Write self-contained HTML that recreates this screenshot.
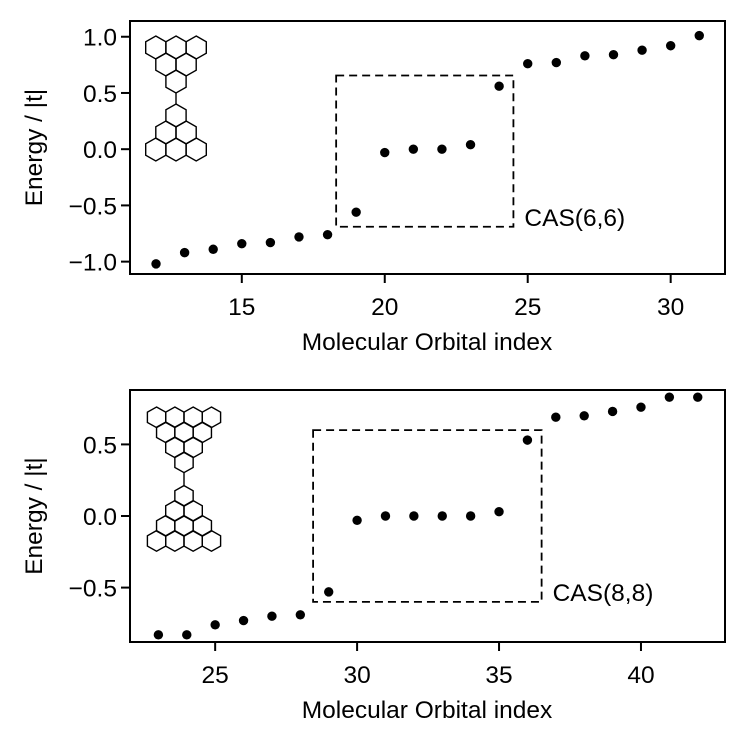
<!DOCTYPE html>
<html><head><meta charset="utf-8"><style>
body{margin:0;background:#fff}
svg{display:block;font-family:"Liberation Sans",sans-serif}
</style></head><body>
<svg id="s" width="747" height="747" viewBox="0 0 747 747"></svg>
<script>
// Top chart data
const topIdx=[12,13,14,15,16,17,18,19,20,21,22,23,24,25,26,27,28,29,30,31];
const topE=[-1.02,-0.92,-0.89,-0.84,-0.83,-0.78,-0.76,-0.56,-0.03,0.0,0.0,0.04,0.56,0.76,0.77,0.83,0.84,0.88,0.92,1.01];
const topXTicks=[15,20,25,30];
const topYTicks=[-1.0,-0.5,0.0,0.5,1.0];
const topBox=[18.3,24.5,-0.69,0.655];
// Bottom chart data
const botIdx=[23,24,25,26,27,28,29,30,31,32,33,34,35,36,37,38,39,40,41,42];
const botE=[-0.83,-0.83,-0.76,-0.73,-0.70,-0.69,-0.53,-0.03,0.0,0.0,0.0,0.0,0.03,0.53,0.69,0.70,0.73,0.76,0.83,0.83];
const botXTicks=[25,30,35,40];
const botYTicks=[-0.5,0.0,0.5];
const botBox=[28.45,36.5,-0.60,0.60];

const NS="http://www.w3.org/2000/svg";
const svg=document.getElementById('s');
function el(t,a,p){const e=document.createElementNS(NS,t);for(const k in a)e.setAttribute(k,a[k]);(p||svg).appendChild(e);return e;}
const FS=24.5;
function chart(o){
  const g=el('g',{});
  
  
  const X=v=>o.L+(v-o.x0)/(o.x1-o.x0)*(o.R-o.L);
  const Y=v=>o.B-(v-o.y0)/(o.y1-o.y0)*(o.B-o.T);
  o.xt.forEach(v=>{
    const t=el('line',{x1:X(v),x2:X(v),y1:o.B,y2:o.B+9,stroke:'#000','stroke-width':2},g);
    
    const l=el('text',{x:X(v),y:o.B+41,'text-anchor':'middle','font-size':FS},g);l.textContent=String(v);
    
  });
  o.yt.forEach(v=>{
    const t=el('line',{x1:o.L-9,x2:o.L,y1:Y(v),y2:Y(v),stroke:'#000','stroke-width':2},g);
    
    const l=el('text',{x:o.L-13,y:Y(v)+9,'text-anchor':'end','font-size':FS},g);l.textContent=(v<0?'\u2212':'')+Math.abs(v).toFixed(1);
    
  });
  const bx=o.box;
  const r=el('rect',{x:X(bx[0]),y:Y(bx[3]),width:X(bx[1])-X(bx[0]),height:Y(bx[2])-Y(bx[3]),fill:'none',stroke:'#000','stroke-width':1.8,'stroke-dasharray':'8,5'},g);
  
  const c=el('text',{x:X(bx[1])+11,y:Y(bx[2])-1,'font-size':FS},g);c.textContent=o.cas;
  
  o.xs.forEach((v,i)=>{
    const p=el('circle',{cx:X(v),cy:Y(o.ys[i]),r:4.7,fill:'#000'},g);
    
  });
  const f=el('rect',{x:o.L,y:o.T,width:o.R-o.L,height:o.B-o.T,fill:'none',stroke:'#000','stroke-width':2},g);
  
  const xl=el('text',{x:427,y:o.B+76,'text-anchor':'middle','font-size':FS},g);xl.textContent='Molecular Orbital index';
  
  const yy=(o.T+o.B)/2;
  const yl=el('text',{x:0,y:0,'text-anchor':'middle','font-size':FS,transform:`translate(42,${yy}) rotate(-90)`},g);yl.textContent='Energy / |t|';
  
}
chart({name:'top-chart',L:130,R:725,T:21,B:274,x0:11.09,x1:31.9,y0:-1.11,y1:1.14,xt:topXTicks,yt:topYTicks,xs:topIdx,ys:topE,box:topBox,cas:'CAS(6,6)'});
chart({name:'bottom-chart',L:130,R:725,T:390,B:642,x0:22.0,x1:42.96,y0:-0.88,y1:0.88,xt:botXTicks,yt:botYTicks,xs:botIdx,ys:botE,box:botBox,cas:'CAS(8,8)'});

function hex(cx,cy,w,h,g){
  const a=w/2,b=h/2;
  const pts=[[cx,cy-h],[cx+a,cy-b],[cx+a,cy+b],[cx,cy+h],[cx-a,cy+b],[cx-a,cy-b]].map(p=>p.join(',')).join(' ');
  el('polygon',{points:pts,fill:'none',stroke:'#000','stroke-width':1.4},g);
}
function molecule(name,cx,top,n,w,h,dy,bond){
  const g=el('g',{});
  
  let y=top+h;
  for(let r=0;r<n;r++){const k=n-r;for(let i=0;i<k;i++)hex(cx+(i-(k-1)/2)*w,y+r*dy,w,h,g);}
  const lastY=y+(n-1)*dy+h;
  const y2=lastY+bond;
  el('line',{x1:cx,x2:cx,y1:lastY,y2:y2,stroke:'#000','stroke-width':1.4},g);
  const y3=y2+h;
  for(let r=0;r<n;r++){const k=r+1;for(let i=0;i<k;i++)hex(cx+(i-(k-1)/2)*w,y3+r*dy,w,h,g);}
}
molecule('molecule-top',176,36,3,20.2,11.5,17,11);
molecule('molecule-bottom',184,407,4,18.3,10.3,15,13);
</script>
</body></html>
